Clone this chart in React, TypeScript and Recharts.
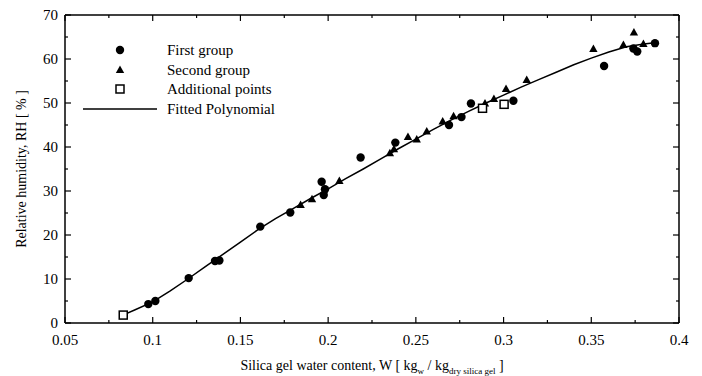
import { ScatterChart, Scatter, XAxis, YAxis, Legend } from "recharts"

// readings
const firstW = [0.0975, 0.1015, 0.1205, 0.1355, 0.138, 0.1613, 0.1784, 0.1975, 0.1982, 0.1963, 0.2185, 0.2383, 0.2689, 0.276, 0.2814, 0.3056, 0.3573, 0.374, 0.3762, 0.3863]
const firstRH = [4.3, 5.0, 10.2, 14.1, 14.2, 21.9, 25.1, 29.1, 30.4, 32.1, 37.6, 41.0, 45.0, 46.8, 49.9, 50.5, 58.4, 62.4, 61.7, 63.6]

const secondW = [0.1843, 0.1908, 0.2064, 0.2352, 0.2375, 0.2455, 0.2505, 0.2562, 0.2653, 0.2715, 0.2894, 0.2945, 0.3014, 0.3132, 0.3512, 0.3683, 0.3743, 0.3797]
const secondRH = [26.8, 28.1, 32.3, 38.6, 39.5, 42.3, 41.7, 43.5, 45.8, 47.0, 49.9, 50.9, 53.2, 55.2, 62.3, 63.2, 66.0, 63.4]

const extraW = [0.0832, 0.288, 0.3003]
const extraRH = [1.8, 48.8, 49.7]

const fitW = [0.083, 0.09, 0.1, 0.11, 0.12, 0.13, 0.14, 0.15, 0.16, 0.17, 0.18, 0.19, 0.2, 0.21, 0.22, 0.23, 0.24, 0.25, 0.26, 0.27, 0.28, 0.29, 0.3, 0.31, 0.32, 0.33, 0.34, 0.35, 0.36, 0.37, 0.38, 0.386]
const fitRH = [1.8, 3.0, 4.8, 7.3, 10.0, 12.8, 15.6, 18.4, 21.2, 23.7, 26.0, 28.3, 30.5, 32.8, 35.0, 37.3, 39.6, 41.8, 44.0, 46.1, 48.1, 50.0, 51.8, 53.6, 55.3, 57.0, 58.7, 60.2, 61.6, 62.8, 63.4, 63.7]

const xTicks = [0.05, 0.075, 0.1, 0.125, 0.15, 0.175, 0.2, 0.225, 0.25, 0.275, 0.3, 0.325, 0.35, 0.375, 0.4]
const xLabels = ["0.05", "", "0.1", "", "0.15", "", "0.2", "", "0.25", "", "0.3", "", "0.35", "", "0.4"]
const yTicks = [0, 5, 10, 15, 20, 25, 30, 35, 40, 45, 50, 55, 60, 65, 70]
const yLabels = ["0", "", "10", "", "20", "", "30", "", "40", "", "50", "", "60", "", "70"]

const legendNames = ["First group", "Second group", "Additional points", "Fitted Polynomial"]

const zip = (w: number[], rh: number[]) => w.map((v, i) => ({ w: v, rh: rh[i] }))

const FONT = "Liberation Serif, DejaVu Serif, Times New Roman, serif"

const Dot = ({ cx, cy }: any) => <circle cx={cx} cy={cy} r={4.2} fill="#000" />
const Tri = ({ cx, cy }: any) => (
  <polygon points={`${cx},${cy - 4.5} ${cx - 4.2},${cy + 3} ${cx + 4.2},${cy + 3}`} fill="#000" />
)
const Box = ({ cx, cy }: any) => (
  <rect x={cx - 4} y={cy - 4} width={8} height={8} fill="#fff" stroke="#000" strokeWidth={1.5} />
)
const Nothing = () => <g />

const BottomTick = ({ x, y, index }: any) => {
  const label = xLabels[index]
  return (
    <g>
      <line x1={x} x2={x} y1={y} y2={y - (label ? 6 : 3)} stroke="#000" strokeWidth={1.2} />
      {label && (
        <text x={x} y={y + 22} textAnchor="middle" style={{ fontSize: 15, fontFamily: FONT }} fill="#000">
          {label}
        </text>
      )}
    </g>
  )
}
const TopTick = ({ x, y, index }: any) => (
  <line x1={x} x2={x} y1={y} y2={y + (xLabels[index] ? 6 : 3)} stroke="#000" strokeWidth={1.2} />
)
const LeftTick = ({ x, y, index }: any) => {
  const label = yLabels[index]
  return (
    <g>
      <line x1={x} x2={x + (label ? 6 : 3)} y1={y} y2={y} stroke="#000" strokeWidth={1.2} />
      {label && (
        <text x={x - 7} y={y + 5} textAnchor="end" style={{ fontSize: 15, fontFamily: FONT }} fill="#000">
          {label}
        </text>
      )}
    </g>
  )
}
const RightTick = ({ x, y, index }: any) => (
  <line x1={x} x2={x - (yLabels[index] ? 6 : 3)} y1={y} y2={y} stroke="#000" strokeWidth={1.2} />
)

const renderLegend = () => {
  const rows = [10, 30, 49, 69]
  return (
    <svg width={230} height={80} style={{ display: "block" }}>
      <Dot cx={40} cy={rows[0]} />
      <Tri cx={40} cy={rows[1]} />
      <Box cx={40} cy={rows[2]} />
      <line x1={3} x2={77} y1={rows[3]} y2={rows[3]} stroke="#000" strokeWidth={1.5} />
      {legendNames.map((n, i) => (
        <text key={n} x={87} y={rows[i] + 5} style={{ fontSize: 15, fontFamily: FONT }} fill="#000">
          {n}
        </text>
      ))}
    </svg>
  )
}

const axisLine = { stroke: "#000", strokeWidth: 1.5 }

export default function App() {
  return (
    <div style={{ position: "absolute", left: 0, top: 0, width: 702, height: 376, background: "#fff", fontFamily: FONT }}>
      <ScatterChart
        width={702}
        height={376}
        margin={{ top: 14, right: 22, bottom: 52, left: 64 }}
        style={{ fontFamily: FONT }}
      >
        <XAxis
          type="number"
          dataKey="w"
          domain={[0.05, 0.4]}
          ticks={xTicks}
          interval={0}
          height={1}
          tickSize={0}
          tickMargin={0}
          axisLine={axisLine}
          tickLine={false}
          tick={<BottomTick />}
          allowDataOverflow
        />
        <XAxis
          xAxisId="top"
          orientation="top"
          type="number"
          dataKey="w"
          domain={[0.05, 0.4]}
          ticks={xTicks}
          interval={0}
          height={1}
          tickSize={0}
          tickMargin={0}
          axisLine={axisLine}
          tickLine={false}
          tick={<TopTick />}
          allowDataOverflow
        />
        <YAxis
          type="number"
          dataKey="rh"
          domain={[0, 70]}
          ticks={yTicks}
          interval={0}
          width={1}
          tickSize={0}
          tickMargin={0}
          axisLine={axisLine}
          tickLine={false}
          tick={<LeftTick />}
          allowDataOverflow
        />
        <YAxis
          yAxisId="right"
          orientation="right"
          type="number"
          dataKey="rh"
          domain={[0, 70]}
          ticks={yTicks}
          interval={0}
          width={1}
          tickSize={0}
          tickMargin={0}
          axisLine={axisLine}
          tickLine={false}
          tick={<RightTick />}
          allowDataOverflow
        />
        <Legend
          layout="vertical"
          align="center"
          verticalAlign="middle"
          content={renderLegend}
          wrapperStyle={{ left: 80, top: 40, width: 230, height: 80 }}
        />
        <Scatter
          name="Fitted Polynomial"
          data={zip(fitW, fitRH)}
          line={{ stroke: "#000", strokeWidth: 1.5 }}
          shape={<Nothing />}
          isAnimationActive={false}
        />
        <Scatter name="First group" data={zip(firstW, firstRH)} shape={<Dot />} isAnimationActive={false} />
        <Scatter name="Second group" data={zip(secondW, secondRH)} shape={<Tri />} isAnimationActive={false} />
        <Scatter name="Additional points" data={zip(extraW, extraRH)} shape={<Box />} isAnimationActive={false} />
      </ScatterChart>
      <div
        style={{
          position: "absolute",
          left: 0,
          width: 744,
          top: 358,
          textAlign: "center",
          fontSize: 14,
          color: "#000",
          whiteSpace: "nowrap",
        }}
      >
        Silica gel water content, W [ kg<sub style={{ fontSize: 9, color: "#000" }}>w</sub> / kg
        <sub style={{ fontSize: 9, color: "#000" }}>dry silica gel</sub> ]
      </div>
      <div
        style={{
          position: "absolute",
          left: 22,
          top: 169,
          transform: "translate(-50%, -50%) rotate(-90deg)",
          fontSize: 14,
          color: "#000",
          whiteSpace: "nowrap",
        }}
      >
        Relative humidity, RH [ % ]
      </div>
    </div>
  )
}
